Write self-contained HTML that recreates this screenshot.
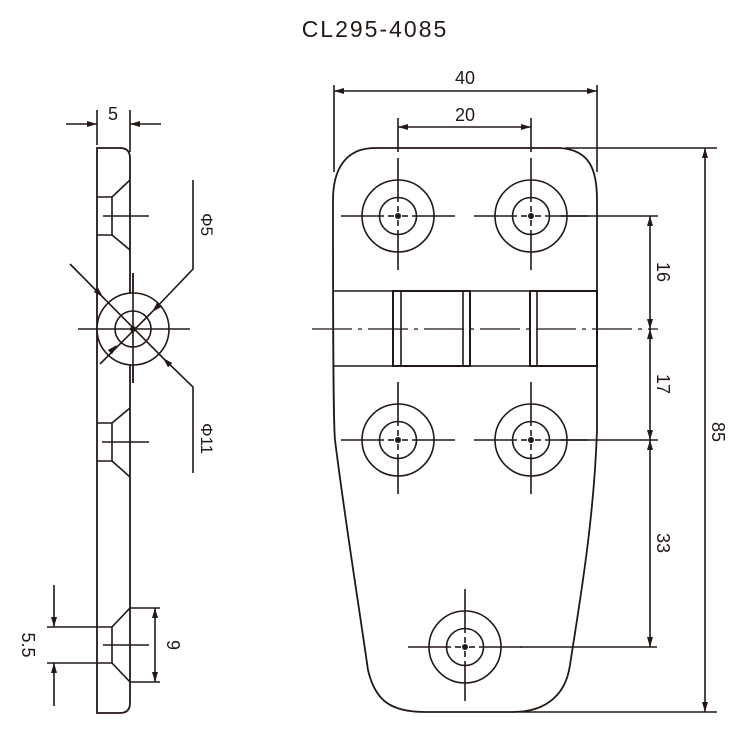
<!DOCTYPE html>
<html><head><meta charset="utf-8"><style>
html,body{margin:0;padding:0;background:#fff;}
svg{display:block;}
text{font-family:"Liberation Sans",sans-serif;fill:#231815;}
</style></head><body>
<svg width="750" height="752" viewBox="0 0 750 752" xmlns="http://www.w3.org/2000/svg">
<defs>
<g id="h">
<circle cx="0" cy="0" r="36"/>
<circle cx="0" cy="0" r="18.5"/>
<line x1="-57" y1="0" x2="-14" y2="0"/><line x1="-10" y1="0" x2="-4" y2="0"/>
<line x1="4" y1="0" x2="10" y2="0"/><line x1="14" y1="0" x2="57" y2="0"/>
<line x1="0" y1="-58" x2="0" y2="-14"/><line x1="0" y1="-10" x2="0" y2="-4"/>
<line x1="0" y1="4" x2="0" y2="10"/><line x1="0" y1="14" x2="0" y2="54"/>
<circle cx="0" cy="0" r="3" fill="#231815" stroke="none"/>
</g>
</defs>
<g stroke="#231815" stroke-width="1.6" fill="none">
<text x="375" y="37" font-size="23" text-anchor="middle" stroke="none" letter-spacing="2">CL295-4085</text>

<!-- LEFT VIEW -->
<path d="M97,148 L120,148 Q130,148 130,158 L130,703 Q130,713 120,713 L97,713 Z" stroke-width="1.8"/>
<path d="M130,180 L112,197 L112,235 L130,250 M97,197 L112,197 M97,235 L112,235"/>
<line x1="103" y1="216" x2="149" y2="216"/>
<path d="M130,408 L112,423 L112,461 L130,477 M97,423 L112,423 M97,461 L112,461"/>
<line x1="102" y1="442" x2="149" y2="442"/>
<path d="M130,608 L112,627 L112,663 L130,682 M97,627 L112,627 M97,663 L112,663"/>
<line x1="103" y1="645" x2="149" y2="645"/>
<line x1="133" y1="273" x2="133" y2="383"/>
<circle cx="133" cy="329" r="36" fill="#fff"/>
<circle cx="133" cy="329" r="18"/>
<line x1="78" y1="329" x2="190" y2="329"/>
<line x1="133" y1="273" x2="133" y2="383"/>
<circle cx="133" cy="329" r="3" fill="#231815" stroke="none"/>
<polyline points="193,180 193,269 152,312"/>
<line x1="152" y1="312" x2="100" y2="364"/>
<line x1="70" y1="264" x2="163" y2="358"/>
<polyline points="193,473 193,387 163,358"/>
<text x="0" y="0" font-size="17" stroke="none" transform="translate(201,213) rotate(90)">Φ5</text>
<text x="0" y="0" font-size="17" stroke="none" transform="translate(201,423) rotate(90)">Φ11</text>
<line x1="97" y1="110" x2="97" y2="145"/>
<line x1="130" y1="110" x2="130" y2="152"/>
<line x1="66" y1="124" x2="97" y2="124"/>
<line x1="161" y1="124" x2="130" y2="124"/>
<text x="113" y="120" font-size="18" text-anchor="middle" stroke="none">5</text>
<line x1="47" y1="627" x2="97" y2="627"/>
<line x1="47" y1="663" x2="97" y2="663"/>
<line x1="54" y1="585" x2="54" y2="627"/>
<line x1="54" y1="706" x2="54" y2="663"/>
<text x="0" y="0" font-size="18" stroke="none" text-anchor="middle" transform="translate(22,645) rotate(90)">5.5</text>
<line x1="130" y1="608" x2="160" y2="608"/>
<line x1="130" y1="682" x2="160" y2="682"/>
<line x1="155" y1="608" x2="155" y2="682"/>
<text x="0" y="0" font-size="18" stroke="none" text-anchor="middle" transform="translate(167,645) rotate(90)">9</text>

<!-- RIGHT VIEW -->
<path d="M375,148 L560,148 C590,150 597,170 597,200 L597,430 C594,520 580,600 570,665 C565,700 540,712 513,712 L425,712 C390,712 375,700 368,670 C358,600 345,520 335,440 C333,420 333,300 333,200 C333,170 345,148 375,148 Z" stroke-width="1.8"/>
<line x1="333" y1="291" x2="393" y2="291"/>
<line x1="333" y1="366" x2="393" y2="366"/>
<line x1="470" y1="291" x2="530" y2="291"/>
<line x1="470" y1="366" x2="530" y2="366"/>
<rect x="393" y="291" width="77" height="75" stroke-width="2"/>
<line x1="401" y1="291" x2="401" y2="366"/>
<line x1="463" y1="291" x2="463" y2="366"/>
<rect x="530" y="291" width="67" height="75" stroke-width="2"/>
<line x1="537" y1="291" x2="537" y2="366"/>
<line x1="312" y1="329" x2="658" y2="329" stroke-width="1.2" stroke-dasharray="40,6,4,6"/>
<use href="#h" transform="translate(398,216)"/>
<use href="#h" transform="translate(531,216)"/>
<use href="#h" transform="translate(398,440)"/>
<use href="#h" transform="translate(531,440)"/>
<use href="#h" transform="translate(465,647)"/>
<line x1="334" y1="85" x2="334" y2="172"/>
<line x1="597" y1="85" x2="597" y2="172"/>
<line x1="398" y1="118" x2="398" y2="152"/>
<line x1="531" y1="118" x2="531" y2="152"/>
<line x1="334" y1="91" x2="597" y2="91"/>
<line x1="398" y1="127" x2="531" y2="127"/>
<text x="465" y="84" font-size="18" text-anchor="middle" stroke="none">40</text>
<text x="465" y="121" font-size="18" text-anchor="middle" stroke="none">20</text>
<line x1="565" y1="148" x2="717" y2="148"/>
<line x1="520" y1="712" x2="717" y2="712"/>
<line x1="705" y1="148" x2="705" y2="712"/>
<line x1="560" y1="216" x2="658" y2="216"/>
<line x1="560" y1="440" x2="658" y2="440"/>
<line x1="520" y1="647" x2="657" y2="647"/>
<line x1="650" y1="216" x2="650" y2="647"/>
<text x="0" y="0" font-size="18" stroke="none" text-anchor="middle" transform="translate(657,272) rotate(90)">16</text>
<text x="0" y="0" font-size="18" stroke="none" text-anchor="middle" transform="translate(657,384) rotate(90)">17</text>
<text x="0" y="0" font-size="18" stroke="none" text-anchor="middle" transform="translate(657,543) rotate(90)">33</text>
<text x="0" y="0" font-size="18" stroke="none" text-anchor="middle" transform="translate(712,432) rotate(90)">85</text>
</g>
<g fill="#231815" stroke="none">
<polygon points="97,124 87,121 87,127"/>
<polygon points="130,124 140,121 140,127"/>
<polygon points="334,91 344,88 344,94"/>
<polygon points="597,91 587,88 587,94"/>
<polygon points="398,127 408,124 408,130"/>
<polygon points="531,127 521,124 521,130"/>
<polygon points="705,148 702,158 708,158"/>
<polygon points="705,712 702,702 708,702"/>
<polygon points="650,216 647,226 653,226"/>
<polygon points="650,329 647,319 653,319"/>
<polygon points="650,329 647,339 653,339"/>
<polygon points="650,440 647,430 653,430"/>
<polygon points="650,440 647,450 653,450"/>
<polygon points="650,647 647,637 653,637"/>
<polygon points="54,627 51,617 57,617"/>
<polygon points="54,663 51,673 57,673"/>
<polygon points="155,608 152,618 158,618"/>
<polygon points="155,682 152,672 158,672"/>
<polygon points="152,312 161.2,307 157,302.8"/>
<polygon points="117,345 112,354.2 107.8,350"/>
<polygon points="103,297 98,287.8 93.8,292"/>
<polygon points="163,358 172.2,363 168,367.2"/>
</g>
</svg>
</body></html>
